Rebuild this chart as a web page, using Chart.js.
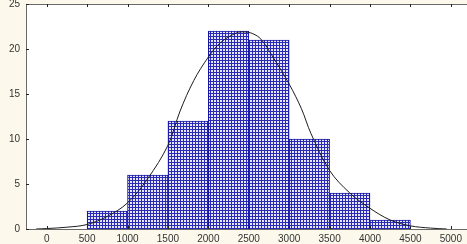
<!DOCTYPE html>
<html>
<head>
<meta charset="utf-8">
<script src="https://cdn.jsdelivr.net/npm/chart.js@4/dist/chart.umd.min.js"></script>
<style>
  body { margin: 0; background: #fcf8ec; }
  canvas { display: block; }
</style>
</head>
<body>
<canvas id="histograma" width="467" height="244"></canvas>
<script>
// histogram bins (width 500) and counts
const binCenters = [750, 1250, 1750, 2250, 2750, 3250, 3750, 4250];
const binCounts = [2, 6, 12, 22, 21, 10, 4, 1];

// fitted curve
const curveX = [-130, 0, 250, 500, 750, 1000, 1250, 1500, 1650, 1820, 2000, 2150, 2350, 2450, 2550, 2650, 2800, 3000, 3150, 3270, 3500, 3750, 4000, 4250, 4500, 4750, 4950];
const curveY = [0, 0.05, 0.2, 0.5, 1.4, 2.9, 5.6, 9.3, 13.1, 16.5, 19.1, 20.7, 21.8, 21.9, 21.7, 21.1, 19.1, 16.1, 13.4, 10.6, 6.5, 4.0, 2.3, 1.0, 0.35, 0.1, 0];

const xTicks = [0, 500, 1000, 1500, 2000, 2500, 3000, 3500, 4000, 4500, 5000];
const yTicks = [0, 5, 10, 15, 20, 25];

document.addEventListener('DOMContentLoaded', function () {
    const canvas = document.getElementById('histograma');
    const ctx = canvas.getContext('2d');

    // blue grid hatch used by the bars
    const tile = document.createElement('canvas');
    tile.width = 3;
    tile.height = 3;
    const t = tile.getContext('2d');
    t.fillStyle = '#e6e6fb';
    t.fillRect(0, 0, 3, 3);
    t.fillStyle = '#2a2ab6';
    t.fillRect(0, 0, 3, 1);
    t.fillRect(0, 0, 1, 3);
    const hatch = ctx.createPattern(tile, 'repeat');

    const marco = {
        id: 'marco',
        beforeDraw(chart) {
            const a = chart.chartArea;
            const c = chart.ctx;
            c.save();
            c.fillStyle = '#ffffff';
            c.fillRect(a.left, a.top, a.right - a.left, a.bottom - a.top);
            c.restore();
        },
        afterDraw(chart) {
            const a = chart.chartArea;
            const c = chart.ctx;
            const xs = chart.scales.x;
            const ys = chart.scales.y;
            c.save();
            c.strokeStyle = '#6a6a6a';
            c.lineWidth = 1;
            c.beginPath();
            c.moveTo(a.left, a.top + 0.5);
            c.lineTo(a.right, a.top + 0.5);
            c.moveTo(a.left + 0.5, a.top);
            c.lineTo(a.left + 0.5, a.bottom);
            c.moveTo(a.left, a.bottom + 0.5);
            c.lineTo(a.right, a.bottom + 0.5);
            c.stroke();
            c.strokeStyle = '#222';
            c.beginPath();
            xTicks.forEach((v) => {
                const px = Math.round(xs.getPixelForValue(v)) + 0.5;
                c.moveTo(px, a.top);
                c.lineTo(px, a.top + 3);
                c.moveTo(px, a.bottom);
                c.lineTo(px, a.bottom - 3);
            });
            yTicks.forEach((v) => {
                const py = Math.round(ys.getPixelForValue(v)) + 0.5;
                c.moveTo(a.left, py);
                c.lineTo(a.left + 3, py);
            });
            c.stroke();
            c.restore();
        }
    };

    new Chart(canvas, {
        data: {
            datasets: [{
                type: 'line',
                data: curveX.map((x, i) => ({ x: x, y: curveY[i] })),
                borderColor: '#1e1e1e',
                borderWidth: 1,
                pointRadius: 0,
                tension: 0.35,
                fill: false,
                order: 0
            }, {
                type: 'bar',
                data: binCenters.map((x, i) => ({ x: x, y: binCounts[i] })),
                backgroundColor: hatch,
                borderColor: '#1212a4',
                borderWidth: 1,
                barPercentage: 1,
                categoryPercentage: 1,
                order: 1
            }]
        },
        options: {
            responsive: false,
            animation: false,
            devicePixelRatio: 1,
            layout: {
                padding: { top: 4, right: 0, left: 0, bottom: 0 }
            },
            plugins: {
                legend: { display: false },
                tooltip: { enabled: false }
            },
            scales: {
                x: {
                    type: 'linear',
                    offset: false,
                    min: -256,
                    max: 5200,
                    grid: { display: false, drawTicks: false, offset: false },
                    border: { display: false },
                    afterBuildTicks: (scale) => {
                        scale.ticks = xTicks.map((v) => ({ value: v }));
                    },
                    afterFit: (scale) => {
                        scale.height = 15;
                        scale.paddingLeft = 0;
                        scale.paddingRight = 0;
                    },
                    ticks: {
                        autoSkip: false,
                        maxRotation: 0,
                        padding: 4,
                        color: '#333',
                        font: { family: 'Liberation Sans', size: 10 },
                        callback: (v) => String(v)
                    }
                },
                y: {
                    min: 0,
                    max: 25,
                    grid: { display: false, drawTicks: false },
                    border: { display: false },
                    afterBuildTicks: (scale) => {
                        scale.ticks = yTicks.map((v) => ({ value: v }));
                    },
                    afterFit: (scale) => {
                        scale.width = 26;
                        scale.paddingTop = 0;
                        scale.paddingBottom = 0;
                    },
                    ticks: {
                        padding: 6,
                        color: '#333',
                        font: { family: 'Liberation Sans', size: 10 }
                    }
                }
            }
        },
        plugins: [marco]
    });
});
</script>
</body>
</html>
